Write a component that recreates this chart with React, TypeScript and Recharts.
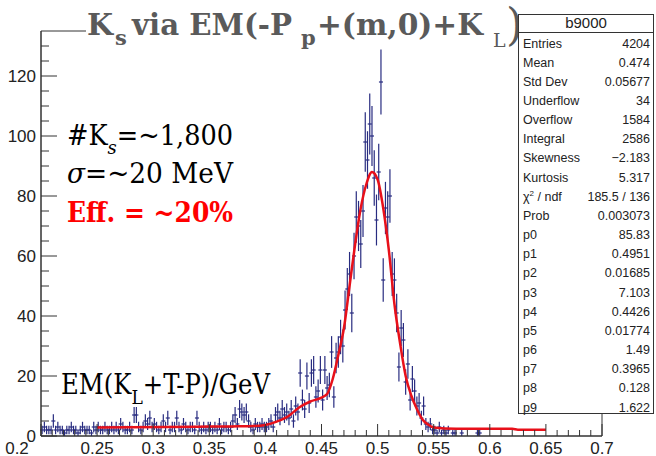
import React from 'react';
import { ComposedChart, Scatter, Line, XAxis, YAxis, ErrorBar, ReferenceArea } from 'recharts';

// ---- histogram: bin layout ----
const BIN_LO = 0.2;
const BIN_W = 0.002;

// bin contents, 25 bins per block (0.05 wide each)
const counts_020_025 = [2, 3, 2, 2, 2, 5, 2, 3, 2, 2, 1, 2, 2, 3, 2, 2, 1, 2, 3, 2, 2, 2, 1, 3, 2];
const counts_025_030 = [3, 2, 2, 3, 2, 2, 3, 2, 3, 2, 4, 3, 2, 2, 3, 2, 7, 7, 3, 2, 3, 5, 4, 6, 3];
const counts_030_035 = [4, 3, 2, 3, 5, 3, 6, 2, 3, 3, 6, 3, 2, 4, 3, 2, 3, 3, 2, 6, 3, 2, 3, 2, 3];
const counts_035_040 = [3, 2, 3, 2, 4, 2, 3, 3, 2, 3, 5, 7, 4, 9, 8, 7, 8, 5, 3, 2, 4, 3, 3, 4, 3];
const counts_040_045 = [3, 4, 5, 3, 7, 8, 6, 9, 7, 8, 6, 9, 5, 10, 8, 21, 12, 9, 20, 11, 21, 22, 13, 15, 22];
const counts_045_050 = [12, 22, 16, 17, 28, 13, 26, 28, 33, 30, 42, 49, 54, 41, 60, 73, 70, 64, 75, 98, 92, 104, 100, 86, 72];
const counts_050_055 = [88, 118, 52, 76, 73, 80, 54, 52, 41, 23, 36, 32, 18, 24, 12, 19, 15, 10, 11, 6, 10, 4, 3, 4, 2];
const counts_055_060 = [2, 1, 3, 1, 2, 1, 2, 0, 1, 1, 0, 0, 1, 0, 0, 0, 0, 0, 0, 1, 1, 0, 0, 0, 0];

// ---- fit curve ----
const fitX = [0.25, 0.28, 0.31, 0.34, 0.37, 0.39, 0.4, 0.41, 0.42, 0.43, 0.44, 0.45, 0.455, 0.46, 0.465, 0.47, 0.475, 0.48, 0.485, 0.49, 0.495, 0.5, 0.505, 0.51, 0.515, 0.52, 0.525, 0.53, 0.535, 0.54, 0.545, 0.55, 0.56, 0.58, 0.6, 0.62, 0.625, 0.65];
const fitY = [2.8, 2.9, 3.0, 3.1, 3.2, 3.3, 3.7, 4.8, 6.5, 9.5, 11.5, 12.8, 14, 19, 27, 36, 50, 64, 76, 84, 88, 85.5, 76, 62, 44, 31, 20, 13.5, 9, 5.5, 3.8, 2.8, 2.5, 2.4, 2.4, 2.4, 2.1, 2.1];

// ---- axes ----
const X_MAJOR = [0.2, 0.25, 0.3, 0.35, 0.4, 0.45, 0.5, 0.55, 0.6, 0.65, 0.7];
const X_LABELS = ['0.2', '0.25', '0.3', '0.35', '0.4', '0.45', '0.5', '0.55', '0.6', '0.65', '0.7'];
const X_MINOR = [0.21, 0.22, 0.23, 0.24, 0.26, 0.27, 0.28, 0.29, 0.31, 0.32, 0.33, 0.34, 0.36, 0.37, 0.38, 0.39, 0.41, 0.42, 0.43, 0.44, 0.46, 0.47, 0.48, 0.49, 0.51, 0.52, 0.53, 0.54, 0.56, 0.57, 0.58, 0.59, 0.61, 0.62, 0.63, 0.64, 0.66, 0.67, 0.68, 0.69];
const Y_MAJOR = [0, 20, 40, 60, 80, 100, 120];
const Y_LABELS = ['0', '20', '40', '60', '80', '100', '120'];
const Y_MINOR = [5, 10, 15, 25, 30, 35, 45, 50, 55, 65, 70, 75, 85, 90, 95, 105, 110, 115, 125, 130];
const X_DOMAIN = [0.2, 0.7];
const Y_DOMAIN = [0, 135];

// ---- stats box ----
const STAT_TITLE = 'b9000';
const STAT_NAMES = ['Entries', 'Mean', 'Std Dev', 'Underflow', 'Overflow', 'Integral', 'Skewness', 'Kurtosis', 'CHI', 'Prob', 'p0', 'p1', 'p2', 'p3', 'p4', 'p5', 'p6', 'p7', 'p8', 'p9'];
const STAT_VALUES = ['4204', '0.474', '0.05677', '34', '1584', '2586', '\u22122.183', '5.317', '185.5 / 136', '0.003073', '85.83', '0.4951', '0.01685', '7.103', '0.4426', '0.01774', '1.49', '0.3965', '0.128', '1.622'];

const allCounts = [
  ...counts_020_025, ...counts_025_030, ...counts_030_035, ...counts_035_040,
  ...counts_040_045, ...counts_045_050, ...counts_050_055, ...counts_055_060,
];
const histPts = allCounts
  .map((n, i) => ({ x: +(BIN_LO + BIN_W * (i + 0.5)).toFixed(4), y: n, ey: Math.sqrt(n), ex: 0.0018 }))
  .filter((p) => p.y > 0);
const fitPts = fitX.map((x, i) => ({ x, y: fitY[i] }));
const xTicks = [...X_MAJOR, ...X_MINOR].sort((a, b) => a - b);
const yTicks = [...Y_MAJOR, ...Y_MINOR].sort((a, b) => a - b);

const AXC = '#333';
const SANS = 'Liberation Sans, Arial, sans-serif';

const XTick = (props: any) => {
  const { x, y, payload } = props;
  const v = payload.value;
  const idx = X_MAJOR.findIndex((m) => Math.abs(m - v) < 1e-6);
  const len = idx >= 0 ? 12 : 6;
  return (
    <g>
      <line x1={x} x2={x} y1={y} y2={y - len} stroke={AXC} strokeWidth={1} />
      {idx >= 0 && (
        <text x={x + (idx === 0 ? -24 : 0)} y={y + 18} textAnchor="middle" fontSize={17} fontFamily={SANS} fill="#222">
          {X_LABELS[idx]}
        </text>
      )}
    </g>
  );
};

const YTick = (props: any) => {
  const { x, y, payload } = props;
  const v = payload.value;
  const idx = Y_MAJOR.findIndex((m) => Math.abs(m - v) < 1e-6);
  const len = idx >= 0 ? 16 : 8;
  return (
    <g>
      <line x1={x} x2={x + len} y1={y} y2={y} stroke={AXC} strokeWidth={1} />
      {idx >= 0 && (
        <text x={x - 5} y={y + 6} textAnchor="end" fontSize={17} fontFamily={SANS} fill="#222">
          {Y_LABELS[idx]}
        </text>
      )}
    </g>
  );
};

const NoMarker = () => <g />;

const ROW0 = 43;
const ROWH = 19.16;

export default function App() {
  const titleFill = '#5a5a5a';
  const TSERIF = 'DejaVu Serif, serif';
  return (
    <div style={{ position: 'absolute', left: 0, top: 0, width: 656, height: 456, background: '#fff' }}>
      <ComposedChart width={656} height={456} margin={{ top: 31, right: 54, bottom: 0, left: 0 }}>
        <XAxis
          type="number"
          dataKey="x"
          domain={X_DOMAIN}
          ticks={xTicks}
          interval={0}
          tick={<XTick />}
          tickLine={false}
          tickSize={0}
          tickMargin={0}
          height={20}
          axisLine={{ stroke: AXC }}
          allowDataOverflow
        />
        <YAxis
          type="number"
          dataKey="y"
          domain={Y_DOMAIN}
          ticks={yTicks}
          interval={0}
          tick={<YTick />}
          tickLine={false}
          tickSize={0}
          tickMargin={0}
          width={41}
          axisLine={{ stroke: AXC }}
          allowDataOverflow
        />
        <ReferenceArea x1={X_DOMAIN[0]} x2={X_DOMAIN[1]} y1={Y_DOMAIN[0]} y2={Y_DOMAIN[1]} fill="none" stroke={AXC} strokeWidth={1} fillOpacity={0} />
        <Scatter data={histPts} dataKey="y" shape={<NoMarker />} isAnimationActive={false}>
          <ErrorBar dataKey="ey" direction="y" width={0} stroke="#282c80" strokeWidth={1.2} isAnimationActive={false} />
          <ErrorBar dataKey="ex" direction="x" width={0} stroke="#282c80" strokeWidth={1.2} isAnimationActive={false} />
        </Scatter>
        <Line data={fitPts} dataKey="y" type="monotone" stroke="#e8101a" strokeWidth={2.5} dot={false} activeDot={false} isAnimationActive={false} />
      </ComposedChart>

      <svg width={656} height={456} style={{ position: 'absolute', left: 0, top: 0, pointerEvents: 'none' }}>
        {/* title */}
        <rect x={86} y={0} width={431} height={44} fill="#fff" />
        <g fill={titleFill} fontFamily={TSERIF} fontWeight="bold">
          <text x={87} y={35} fontSize={30}>K</text>
          <text x={115} y={45} fontSize={21}>s</text>
          <text x={132} y={35} fontSize={30} textLength={160} lengthAdjust="spacingAndGlyphs">via EM(-P</text>
          <text x={301} y={45} fontSize={21}>p</text>
          <text x={317} y={35} fontSize={30} textLength={166} lengthAdjust="spacingAndGlyphs">+(m,0)+K</text>
          <text x={493} y={47} fontSize={19} fontWeight="normal">L</text>
          <text x={506} y={40} fontSize={44} fontWeight="normal">)</text>
        </g>

        {/* annotations */}
        <g fill="#000" fontFamily={TSERIF}>
          <text x={67} y={145} fontSize={27} textLength={166} lengthAdjust="spacingAndGlyphs">
            #K<tspan fontSize={19} fontStyle="italic" dy={9}>s</tspan>
            <tspan dy={-9}>=~1,800</tspan>
          </text>
          <text x={67} y={183} fontSize={27} textLength={166} lengthAdjust="spacingAndGlyphs">
            <tspan fontStyle="italic">σ</tspan>=~20 MeV
          </text>
          <text x={67} y={222} fontSize={27} fontWeight="bold" fill="#ff0000" textLength={166} lengthAdjust="spacingAndGlyphs">Eff. = ~20%</text>
          <text x={61} y={394} fontSize={27} textLength={209} lengthAdjust="spacingAndGlyphs">
            EM(K<tspan fontSize={19} dy={10}>L</tspan>
            <tspan dy={-10}>+T-P)/GeV</tspan>
          </text>
        </g>

        {/* stats box */}
        <rect x={518.5} y={14.5} width={135} height={399} fill="#fff" stroke={AXC} strokeWidth={1} />
        <line x1={518.5} x2={653.5} y1={32.5} y2={32.5} stroke={AXC} strokeWidth={1} />
        <text x={586} y={28} textAnchor="middle" fontSize={15} fontFamily={SANS} fill="#222">{STAT_TITLE}</text>
        <g fontSize={12.5} fontFamily={SANS} fill="#222">
          {STAT_NAMES.map((name, k) => (
            <text key={'n' + k} x={523} y={ROW0 + ROWH * k + 4.5}>
              {name === 'CHI' ? (
                <>
                  χ<tspan fontSize={8} dy={-5}>2</tspan>
                  <tspan dy={5}> / ndf</tspan>
                </>
              ) : (
                name
              )}
            </text>
          ))}
          {STAT_VALUES.map((val, k) => (
            <text key={'v' + k} x={650} y={ROW0 + ROWH * k + 4.5} textAnchor="end">
              {val}
            </text>
          ))}
        </g>
      </svg>
    </div>
  );
}
